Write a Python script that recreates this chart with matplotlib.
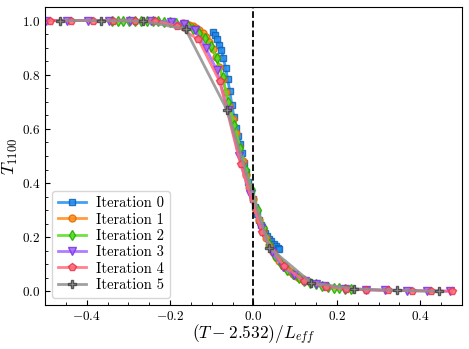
import matplotlib
matplotlib.use("Agg")
import matplotlib.pyplot as plt
from matplotlib.ticker import AutoMinorLocator

plt.rcParams['font.family'] = 'serif'
plt.rcParams['font.serif'] = ['cmr10']
plt.rcParams['mathtext.fontset'] = 'cm'
plt.rcParams['axes.formatter.use_mathtext'] = True

# Iteration 0
x0 = [-0.097, -0.092, -0.087, -0.082, -0.077, -0.072, -0.067, -0.062, -0.057, -0.052,
      -0.047, -0.042, -0.037, -0.032, -0.027, -0.022, -0.017, -0.012, -0.007, -0.002,
      0.003, 0.008, 0.013, 0.018, 0.023, 0.028, 0.033, 0.038, 0.043, 0.048, 0.053, 0.058, 0.062]
y0 = [0.957, 0.945, 0.93, 0.91, 0.89, 0.86, 0.825, 0.785, 0.74, 0.69,
      0.645, 0.605, 0.575, 0.545, 0.51, 0.475, 0.44, 0.405, 0.37, 0.34,
      0.31, 0.285, 0.262, 0.245, 0.23, 0.217, 0.205, 0.195, 0.185, 0.176, 0.168, 0.161, 0.155]

# Iteration 1
x1 = [-0.170, -0.162, -0.154, -0.146, -0.138, -0.130, -0.122, -0.114, -0.106, -0.098,
      -0.090, -0.082, -0.074, -0.066, -0.058, -0.050, -0.042, -0.034, -0.026, -0.018,
      -0.010, -0.002, 0.006, 0.014, 0.022, 0.030, 0.038, 0.046, 0.054, 0.062,
      0.070, 0.078, 0.086, 0.094, 0.102, 0.110, 0.118]
y1 = [0.99, 0.987, 0.983, 0.978, 0.972, 0.965, 0.955, 0.94, 0.92, 0.895,
      0.865, 0.83, 0.785, 0.735, 0.685, 0.635, 0.585, 0.535, 0.48, 0.43,
      0.385, 0.34, 0.3, 0.262, 0.228, 0.197, 0.17, 0.147, 0.128, 0.112,
      0.098, 0.086, 0.075, 0.066, 0.058, 0.051, 0.045]

# Iteration 2
x2 = [-0.34, -0.326, -0.312, -0.298, -0.284, -0.270, -0.256, -0.242, -0.228, -0.214,
      -0.200, -0.186, -0.172, -0.158, -0.144, -0.130, -0.116, -0.102, -0.088, -0.074,
      -0.060, -0.046, -0.032, -0.018, -0.004, 0.010, 0.024, 0.038, 0.052, 0.066,
      0.080, 0.094, 0.108, 0.122, 0.136, 0.150, 0.164, 0.178, 0.192, 0.206, 0.220, 0.234]
y2 = [1.0, 1.0, 1.0, 1.0, 0.999, 0.999, 0.998, 0.998, 0.997, 0.996,
      0.994, 0.99, 0.985, 0.978, 0.968, 0.955, 0.935, 0.905, 0.86, 0.79,
      0.70, 0.615, 0.53, 0.45, 0.375, 0.30, 0.235, 0.175, 0.13, 0.1,
      0.08, 0.064, 0.05, 0.04, 0.032, 0.026, 0.021, 0.017, 0.014, 0.012, 0.010, 0.008]

# Iteration 3
x3 = [-0.497, -0.447, -0.397, -0.347, -0.297, -0.247, -0.197, -0.167, -0.141, -0.115,
      -0.088, -0.062, -0.035, -0.009, 0.018, 0.044, 0.070, 0.097, 0.123, 0.15,
      0.17, 0.22, 0.27, 0.316, 0.368, 0.417, 0.471]
y3 = [1.0, 1.0, 1.0, 1.0, 0.999, 0.998, 0.994, 0.988, 0.965, 0.90,
      0.817, 0.67, 0.5, 0.36, 0.235, 0.145, 0.092, 0.06, 0.04, 0.026,
      0.02, 0.01, 0.006, 0.004, 0.003, 0.002, 0.001]

# Iteration 4
x4 = [-0.487, -0.437, -0.386, -0.336, -0.285, -0.237, -0.184, -0.132, -0.081, -0.031,
      0.02, 0.072, 0.121, 0.173, 0.222, 0.27, 0.322, 0.38, 0.426, 0.475]
y4 = [1.0, 1.0, 1.0, 1.0, 0.999, 0.998, 0.98, 0.93, 0.775, 0.47,
      0.22, 0.095, 0.04, 0.018, 0.01, 0.006, 0.004, 0.003, 0.002, 0.001]

# Iteration 5
x5 = [-0.465, -0.365, -0.265, -0.163, -0.063, 0.038, 0.139, 0.24, 0.343, 0.444]
y5 = [1.0, 1.0, 0.998, 0.968, 0.668, 0.162, 0.032, 0.01, 0.004, 0.001]

series = [
    (x0, y0, 's', '#1f8ff0', '#1060b8', 5),
    (x1, y1, 'o', '#ff8c1a', '#e06a00', 5),
    (x2, y2, 'd', '#55dd22', '#22aa00', 5),
    (x3, y3, 'v', '#a366ff', '#7a33e0', 5.5),
    (x4, y4, 'p', '#ff6b78', '#e8334a', 5.5),
    (x5, y5, 'P', '#909090', '#404040', 5.5),
]

fig, ax = plt.subplots(figsize=(4.69, 3.49), dpi=100)
fig.subplots_adjust(left=0.096, right=0.985, bottom=0.126, top=0.98)

for i, (xs, ys, m, c, ec, ms) in enumerate(series):
    ax.plot(xs, ys, marker=m, color=c, mfc=c, mec=ec, ms=ms, lw=2, alpha=0.85,
            label=f'Iteration {i}')

ax.axvline(0, color='k', ls='--', lw=1.3)
ax.set_xlim(-0.5, 0.5)
ax.set_ylim(-0.05, 1.05)
ax.xaxis.set_minor_locator(AutoMinorLocator(4))
ax.yaxis.set_minor_locator(AutoMinorLocator(4))
ax.tick_params(which='both', direction='in', labelsize=9.5)
ax.set_xlabel(r'$(T-2.532)/L_{eff}$', fontsize=12.5, labelpad=0)
ax.set_ylabel(r'$T_{1100}$', fontsize=13, labelpad=1)
ax.legend(loc='lower left', fontsize=10.5, handlelength=1.9, borderpad=0.4,
          labelspacing=0.18, handletextpad=0.7)

fig.savefig('out.png', dpi=100)
